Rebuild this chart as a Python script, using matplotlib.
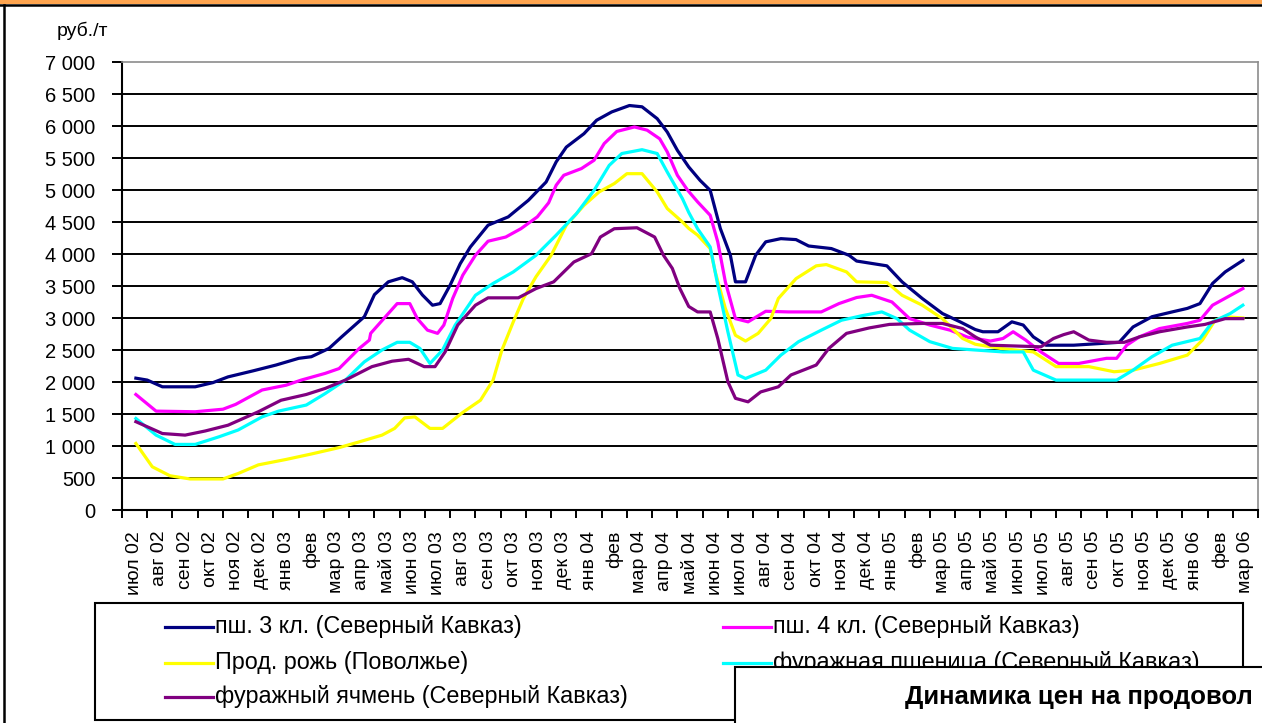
import matplotlib
matplotlib.use("Agg")
import matplotlib.pyplot as plt
from matplotlib.lines import Line2D
from matplotlib.patches import Rectangle
from matplotlib.ticker import FuncFormatter, MultipleLocator

plt.rcParams['font.family'] = ['Liberation Sans', 'DejaVu Sans']

# month categories (Jul 2002 - Mar 2006)
months = ["июл 02", "авг 02", "сен 02", "окт 02", "ноя 02", "дек 02", "янв 03", "фев",
          "мар 03", "апр 03", "май 03", "июн 03", "июл 03", "авг 03", "сен 03",
          "окт 03", "ноя 03", "дек 03", "янв 04", "фев", "мар 04", "апр 04", "май 04",
          "июн 04", "июл 04", "авг 04", "сен 04", "окт 04", "ноя 04", "дек 04", "янв 05",
          "фев", "мар 05", "апр 05", "май 05", "июн 05", "июл 05", "авг 05", "сен 05",
          "окт 05", "ноя 05", "дек 05", "янв 06", "фев", "мар 06"]

# observation dates in months from start of июл 02, prices in руб./т
p3_t = [0.55, 1.0, 1.6, 2.9, 3.6, 4.2, 5.2, 6.1, 7.0, 7.5, 8.2, 8.7, 9.6, 10.0, 10.55,
        11.1, 11.5, 11.9, 12.3, 12.6, 13.0, 13.4, 13.8, 14.5, 15.3, 16.1, 16.8, 17.2,
        17.6, 18.3, 18.8, 19.4, 20.1, 20.6, 21.2, 21.6, 22.0, 22.45, 22.9, 23.3, 23.7,
        24.1, 24.3, 24.7, 25.1, 25.5, 26.1, 26.7, 27.2, 28.1, 28.8, 29.1, 30.3, 30.9,
        31.7, 32.5, 33.2, 33.8, 34.1, 34.7, 35.25, 35.7, 36.1, 36.6, 37.7, 39.5, 40.05,
        40.8, 41.6, 42.2, 42.7, 43.2, 43.7, 44.4]
p3_v = [2060, 2030, 1925, 1925, 1990, 2080, 2175, 2265, 2370, 2395, 2525, 2705, 3020,
        3365, 3565, 3630, 3565, 3360, 3200, 3225, 3515, 3850, 4110, 4450, 4580, 4840,
        5125, 5440, 5670, 5880, 6090, 6220, 6320, 6300, 6115, 5905, 5620, 5360, 5150,
        4995, 4400, 3980, 3565, 3565, 3980, 4190, 4240, 4225, 4125, 4085, 3980, 3890,
        3815, 3565, 3305, 3070, 2940, 2820, 2785, 2785, 2940, 2890, 2705, 2575, 2575,
        2620, 2860, 3020, 3095, 3150, 3225, 3540, 3720, 3900]

p4_t = [0.55, 1.35, 2.9, 4.0, 4.5, 5.55, 6.5, 7.1, 8.05, 8.6, 9.4, 9.8, 9.85, 10.9, 11.4,
        11.7, 12.1, 12.5, 12.75, 13.1, 13.5, 14.0, 14.5, 15.2, 15.8, 16.45, 16.9, 17.2,
        17.5, 18.2, 18.7, 19.1, 19.6, 20.3, 20.8, 21.3, 21.6, 22.0, 22.4, 22.8, 23.3,
        23.6, 23.9, 24.3, 24.8, 25.5, 26.4, 27.7, 28.4, 29.1, 29.7, 30.5, 31.2, 32.0,
        32.8, 33.5, 34.4, 34.9, 35.3, 35.8, 36.4, 37.1, 37.9, 39.0, 39.4, 39.8, 40.3,
        41.1, 42.2, 42.7, 43.2, 44.4]
p4_v = [1805, 1545, 1535, 1575, 1650, 1875, 1950, 2030, 2135, 2210, 2525, 2655, 2760,
        3225, 3225, 2990, 2810, 2760, 2890, 3305, 3670, 3980, 4200, 4265, 4395, 4580,
        4800, 5075, 5230, 5335, 5465, 5725, 5915, 5985, 5935, 5800, 5595, 5230, 5000,
        4815, 4605, 4190, 3565, 2990, 2940, 3105, 3095, 3095, 3225, 3320, 3355, 3250,
        2990, 2890, 2810, 2700, 2640, 2680, 2785, 2655, 2470, 2290, 2290, 2370, 2370,
        2575, 2705, 2835, 2915, 2965, 3200, 3460]

rye_t = [0.55, 1.2, 1.9, 2.7, 4.0, 4.6, 5.4, 6.5, 7.5, 8.6, 9.4, 10.3, 10.8, 11.2, 11.6,
         12.2, 12.7, 13.5, 14.2, 14.7, 15.05, 15.5, 15.9, 16.4, 17.0, 17.6, 18.3, 18.9,
         19.5, 20.0, 20.6, 21.2, 21.6, 22.2, 22.45, 22.8, 23.3, 23.5, 23.9, 24.3, 24.7,
         25.2, 25.7, 26.0, 26.7, 27.5, 27.9, 28.7, 29.1, 30.3, 30.9, 31.7, 32.5, 33.3,
         33.8, 34.8, 36.1, 37.0, 38.3, 39.3, 40.05, 41.1, 42.2, 42.8, 43.3, 43.7, 44.4]
rye_v = [1040, 675, 535, 485, 485, 570, 705, 790, 875, 975, 1065, 1170, 1275, 1440, 1455,
         1275, 1275, 1525, 1715, 2030, 2500, 2940, 3305, 3645, 3980, 4450, 4760, 4970,
         5100, 5255, 5255, 4970, 4710, 4500, 4400, 4295, 4085, 3720, 3150, 2730, 2640,
         2760, 2990, 3305, 3615, 3815, 3835, 3720, 3565, 3555, 3355, 3200, 2990, 2680,
         2590, 2525, 2470, 2240, 2240, 2160, 2185, 2290, 2420, 2655, 2965, 3020, 3000]

fw_t = [0.55, 1.35, 2.1, 2.9, 3.85, 4.6, 5.55, 6.2, 7.3, 8.05, 8.85, 9.6, 10.3, 10.9,
        11.4, 11.8, 12.2, 12.7, 13.2, 14.0, 14.7, 15.5, 16.4, 17.2, 18.0, 18.7, 19.3,
        19.8, 20.6, 21.2, 21.6, 22.2, 22.45, 22.8, 23.3, 23.6, 24.0, 24.4, 24.7, 25.5,
        26.1, 26.8, 27.7, 28.5, 29.3, 30.1, 30.7, 31.2, 32.0, 32.9, 33.8, 34.9, 35.7,
        36.1, 37.0, 39.4, 40.05, 40.8, 41.6, 42.7, 43.2, 43.9, 44.4]
fw_v = [1430, 1170, 1025, 1025, 1145, 1250, 1455, 1545, 1640, 1820, 2030, 2315, 2500,
        2620, 2620, 2525, 2290, 2500, 2890, 3355, 3540, 3720, 3980, 4295, 4630, 4995,
        5385, 5570, 5630, 5570, 5280, 4865, 4650, 4395, 4110, 3515, 2785, 2110, 2055,
        2185, 2420, 2630, 2810, 2965, 3035, 3095, 2990, 2810, 2630, 2525, 2500, 2470,
        2470, 2185, 2030, 2030, 2185, 2395, 2575, 2680, 2940, 3070, 3200]

fb_t = [0.55, 1.6, 2.5, 3.3, 4.2, 5.4, 6.3, 7.3, 8.05, 8.85, 9.9, 10.7, 11.35, 11.97,
        12.4, 12.8, 13.3, 14.0, 14.5, 15.7, 16.4, 17.1, 17.9, 18.6, 18.95, 19.5, 20.4,
        21.1, 21.45, 21.8, 22.1, 22.45, 22.8, 23.3, 23.6, 24.0, 24.3, 24.8, 25.3, 26.0,
        26.5, 27.5, 28.0, 28.7, 29.6, 30.4, 31.7, 32.5, 33.3, 33.8, 34.4, 36.4, 36.9,
        37.3, 37.7, 38.3, 39.0, 39.7, 40.3, 41.1, 42.2, 42.9, 43.7, 44.4]
fb_v = [1380, 1195, 1170, 1235, 1325, 1535, 1715, 1805, 1900, 2030, 2240, 2325, 2355,
        2240, 2240, 2470, 2890, 3200, 3315, 3315, 3460, 3565, 3875, 4005, 4265, 4395,
        4410, 4265, 3980, 3775, 3460, 3180, 3095, 3095, 2680, 2005, 1745, 1690, 1845,
        1925, 2110, 2265, 2525, 2760, 2845, 2900, 2915, 2915, 2835, 2705, 2575, 2550,
        2680, 2740, 2785, 2655, 2620, 2620, 2705, 2785, 2860, 2900, 2990, 2990]

series = [
    (p3_t, p3_v, "#000080", "пш. 3 кл. (Северный Кавказ)"),
    (p4_t, p4_v, "#FF00FF", "пш. 4 кл. (Северный Кавказ)"),
    (rye_t, rye_v, "#FFFF00", "Прод. рожь (Поволжье)"),
    (fw_t, fw_v, "#00FFFF", "фуражная пшеница (Северный Кавказ)"),
    (fb_t, fb_v, "#800080", "фуражный ячмень (Северный Кавказ)"),
]

W, H = 1262, 723
fig = plt.figure(figsize=(W / 100, H / 100), dpi=100)
fig.patch.set_facecolor("white")


def fx(px):
    return px / W


def fy(py):
    return 1 - py / H


ax = fig.add_axes([fx(122), fy(510), (1258 - 122) / W, (510 - 62) / H])

# horizontal grid (black) every 500
for yv in range(500, 7000, 500):
    ax.axhline(yv, color="black", lw=1.4, zorder=1)

for t, v, c, name in series:
    ax.plot(t, v, color=c, lw=2.3, solid_joinstyle="round", zorder=3, label=name)

ax.set_xlim(0, len(months))
ax.set_ylim(0, 7000)
ax.yaxis.set_major_locator(MultipleLocator(500))
ax.yaxis.set_major_formatter(FuncFormatter(lambda v, p: f"{int(v):,}".replace(",", " ")))

ax.set_xticks(range(len(months) + 1))
ax.set_xticklabels([])
ax.set_xticks([i + 0.5 for i in range(len(months))], months, minor=True, rotation=90)
ax.tick_params(axis="x", which="major", direction="out", length=6, width=1.4)
ax.tick_params(axis="x", which="minor", length=0, pad=15, labelsize=14)
ax.tick_params(axis="y", direction="out", length=7, width=1.4, labelsize=14.5, pad=12)

for s in ("left", "bottom"):
    ax.spines[s].set_color("black")
    ax.spines[s].set_linewidth(1.5)
for s in ("top", "right"):
    ax.spines[s].set_color("#8c8c8c")
    ax.spines[s].set_linewidth(1.2)

fig.text(fx(82), fy(31), "руб./т", ha="center", va="center", fontsize=14)

# legend box, laid out row by row like the original (two columns)
fig.add_artist(Rectangle((fx(95), fy(720)), (1243 - 95) / W, (720 - 603) / H,
                         transform=fig.transFigure, facecolor="white",
                         edgecolor="black", lw=1.5, zorder=5))
col_x = [165, 723]
row_y = [627, 663, 697]
for k, (t, v, c, name) in enumerate(series):
    x0, y0 = col_x[k % 2], row_y[k // 2]
    fig.add_artist(Line2D([fx(x0), fx(x0 + 48)], [fy(y0)] * 2, color=c, lw=2.3, zorder=6))
    fig.text(fx(x0 + 50), fy(y0), name, fontsize=16.8, va="center", ha="left", zorder=6)

# title box overlapping the legend (cut off at the screenshot edge)
fig.add_artist(Rectangle((fx(735), -0.1), 1, 0.1 + fy(667), transform=fig.transFigure,
                         facecolor="white", edgecolor="black", lw=1.5, zorder=8))
fig.text(fx(905), fy(697), "Динамика цен на продовол",
         fontsize=18.5, weight="bold", va="center", ha="left", zorder=9)

# outer frame of the screenshot
fig.add_artist(Rectangle((0, fy(3.5)), 1, 3.5 / H, transform=fig.transFigure,
                         facecolor="#FFA54F", edgecolor="none", zorder=10))
fig.add_artist(Line2D([0, 1], [fy(4.8)] * 2, color="black", lw=1.8, zorder=10))
fig.add_artist(Line2D([fx(4.3)] * 2, [0, fy(4.8)], color="black", lw=1.8, zorder=10))

fig.savefig("out.png", dpi=100)
